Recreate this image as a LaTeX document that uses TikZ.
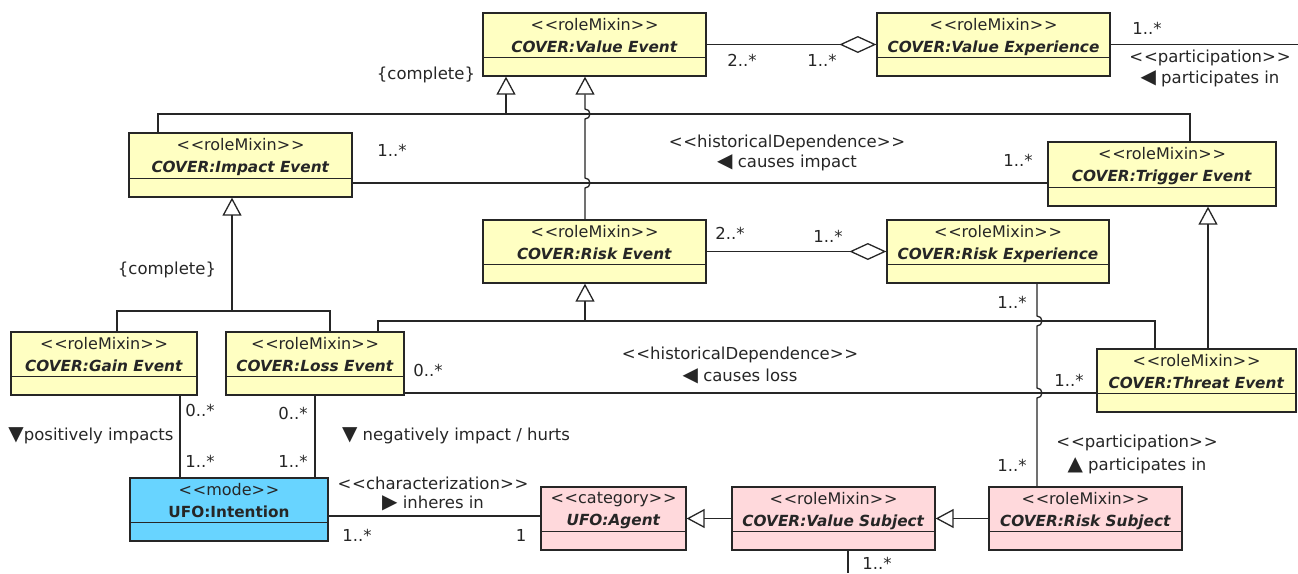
\documentclass[tikz,border=0pt]{standalone}
\usepackage{fontspec}
\setmainfont{DejaVu Sans}
\usetikzlibrary{arrows.meta}

\definecolor{ymix}{RGB}{255,255,194}
\definecolor{pinkc}{RGB}{255,217,220}
\definecolor{bluec}{RGB}{104,212,255}
\definecolor{ink}{RGB}{38,38,38}

% guillemet-free stereotype brackets
\newcommand\stereo[1]{<\kern0.8pt<#1>\kern0.8pt>}
\newcommand\ttl[1]{{\fontsize{15.3}{22}\selectfont\textbf{\textit{#1}}}}
% reading-direction triangle, set a little larger than the text
\newcommand\dirmark[1]{{\fontsize{20}{20}\selectfont #1}}

\tikzset{
  classbox/.style={draw=ink, line width=1.3pt, inner sep=0pt, rectangle},
  yel/.style={classbox, fill=ymix},
  pnk/.style={classbox, fill=pinkc},
  blu/.style={classbox, fill=bluec},
  hdr/.style={align=center, inner sep=0pt, anchor=north, text=ink,
              font=\fontsize{16}{22}\selectfont},
  lbl/.style={inner sep=0pt, text=ink, font=\fontsize{16.5}{20}\selectfont},
  conn/.style={draw=ink, line width=1.3pt},
  gen/.style={conn, -{Triangle[open, length=18pt, width=19pt]}},
  agg/.style={conn, -{Diamond[open, length=37pt, width=17pt]}},
}

% name, x, y, width, height, style, stereotype, title
\newcommand\umlclass[8]{%
  \node[#6, minimum width=#4pt, minimum height=#5pt] (#1) at (#2,#3) {};
  \draw[draw=ink, line width=1.1pt] ([yshift=19pt]#1.south west) -- ([yshift=19pt]#1.south east);
  \node[hdr] (#1-h) at ([yshift=-5.5pt]#1.north) {\stereo{#7}\\#8};
}

\begin{document}
\begin{tikzpicture}[x=1pt, y=-1pt]
\fill[white] (0,0) rectangle (1298,573);
\useasboundingbox (0,0) rectangle (1298,573);

% classes
\umlclass{VE}{594.5}{44.5}{223}{63}{yel}{roleMixin}{\ttl{COVER:Value Event}}
\umlclass{VX}{993.5}{44.5}{233}{63}{yel}{roleMixin}{\ttl{COVER:Value Experience}}
\umlclass{IE}{240.5}{165}{223}{64}{yel}{roleMixin}{\ttl{COVER:Impact Event}}
\umlclass{TE}{1162}{174}{228}{64}{yel}{roleMixin}{\ttl{COVER:Trigger Event}}
\umlclass{RE}{594.5}{251.5}{223}{63}{yel}{roleMixin}{\ttl{COVER:Risk Event}}
\umlclass{RX}{998}{251.5}{222}{63}{yel}{roleMixin}{\ttl{COVER:Risk Experience}}
\umlclass{GE}{104}{363.5}{186}{63}{yel}{roleMixin}{\ttl{COVER:Gain Event}}
\umlclass{LE}{315}{363.5}{178}{63}{yel}{roleMixin}{\ttl{COVER:Loss Event}}
\umlclass{TH}{1196.5}{380.5}{199}{63}{yel}{roleMixin}{\ttl{COVER:Threat Event}}
\umlclass{IN}{229}{509.5}{198}{63}{blu}{mode}{{\fontsize{15.3}{22}\selectfont\textbf{UFO:Intention}}}
\umlclass{AG}{613.5}{518.5}{145}{63}{pnk}{category}{\ttl{UFO:Agent}}
\umlclass{VS}{833.5}{518.5}{203}{63}{pnk}{roleMixin}{\ttl{COVER:Value Subject}}
\umlclass{RS}{1085.5}{518.5}{193}{63}{pnk}{roleMixin}{\ttl{COVER:Risk Subject}}

% value event generalization set
\coordinate (busA) at (506,114);
\draw[conn] (158,0 |- IE.north) |- (1190,114) -- (1190,0 |- TE.north);
\draw[gen] (busA) -- (506,0 |- VE.south);
\node[lbl] (cmpA) at (426,75) {\{complete\}};

% risk event to value event, jumping over two lines
\draw[gen] (585,0 |- RE.north) -- (585,188) arc[start angle=-90, end angle=90, radius=5pt]
  -- (585,119) arc[start angle=-90, end angle=90, radius=5pt] -- (585,0 |- VE.south);

% value event aggregation
\draw[agg] (VE.east) -- (VX.west);
\node[lbl] (mA1) at (742,60) {2..*};
\node[lbl] (mA2) at (822,60) {1..*};

% value experience participation
\coordinate (edgeR) at (1298,44.5);
\draw[conn] (VX.east) -- (edgeR);
\node[lbl] (mB1) at (1147,28) {1..*};
\node[lbl] (sB1) at (1210,58) {\stereo{participation}};
\node[lbl] (sB2) at (1210,79) {\dirmark{◀} participates in};

% impact / trigger
\draw[conn] (IE.east |- 0,183) -- (TE.west |- 0,183);
\node[lbl] (mC1) at (392,150) {1..*};
\node[lbl] (mC2) at (1018,160) {1..*};
\node[lbl] (sC1) at (787,143) {\stereo{historicalDependence}};
\node[lbl] (sC2) at (787,163) {\dirmark{◀} causes impact};

% impact event generalization set
\coordinate (busB) at (232,311);
\draw[conn] (117,0 |- GE.north) |- (330,311) -- (330,0 |- LE.north);
\draw[gen] (busB) -- (232,0 |- IE.south);
\node[lbl] (cmpB) at (167,270) {\{complete\}};

% risk event generalization set
\coordinate (busC) at (585,321);
\draw[conn] (378,0 |- LE.north) |- (1155,321) -- (1155,0 |- TH.north);
\draw[gen] (busC) -- (585,0 |- RE.south);

% risk event aggregation
\draw[agg] (RE.east) -- (RX.west);
\node[lbl] (mD1) at (730,233) {2..*};
\node[lbl] (mD2) at (828,236) {1..*};

% trigger to threat
\draw[gen] (1208,0 |- TH.north) -- (1208,0 |- TE.south);

% loss / threat
\draw[conn] (LE.east |- 0,393) -- (TH.west |- 0,393);
\node[lbl] (mE1) at (428,370) {0..*};
\node[lbl] (mE2) at (1069,380) {1..*};
\node[lbl] (sE1) at (740,355) {\stereo{historicalDependence}};
\node[lbl] (sE2) at (740,376) {\dirmark{◀} causes loss};

% risk experience / risk subject, jumping over two lines
\draw[conn] (1037,0 |- RX.south) -- (1037,316) arc[start angle=90, end angle=-90, radius=5pt]
  -- (1037,388) arc[start angle=90, end angle=-90, radius=5pt] -- (1037,0 |- RS.north);
\node[lbl] (mF1) at (1012,302) {1..*};
\node[lbl] (mF2) at (1012,465) {1..*};
\node[lbl] (sF1) at (1137,443) {\stereo{participation}};
\node[lbl] (sF2) at (1137,466) {\dirmark{▲} participates in};

% gain / loss to intention
\draw[conn] (180,0 |- GE.south) -- (180,0 |- IN.north);
\draw[conn] (315,0 |- LE.south) -- (315,0 |- IN.north);
\node[lbl] (mG1) at (200,410) {0..*};
\node[lbl] (mG2) at (200,461) {1..*};
\node[lbl] (mH1) at (293,413) {0..*};
\node[lbl] (mH2) at (293,461) {1..*};
\node[lbl] (tG) at (91,436) {\dirmark{▼}positively impacts};
\node[lbl] (tH) at (456,436) {\dirmark{▼} negatively impact / hurts};

% intention / agent
\draw[conn] (IN.east |- 0,516) -- (AG.west |- 0,516);
\node[lbl] (sI1) at (433,483) {\stereo{characterization}};
\node[lbl] (sI2) at (433,503) {\dirmark{▶} inheres in};
\node[lbl] (mI1) at (357,535) {1..*};
\node[lbl] (mI2) at (521,535) {1};

% subject generalizations
\draw[gen] (VS.west) -- (AG.east);
\draw[gen] (RS.west) -- (VS.east);

% value subject, continuing below
\coordinate (edgeB) at (848,573);
\draw[conn] (848,0 |- VS.south) -- (edgeB);
\node[lbl] (mJ) at (877,563) {1..*};
\end{tikzpicture}
\end{document}
